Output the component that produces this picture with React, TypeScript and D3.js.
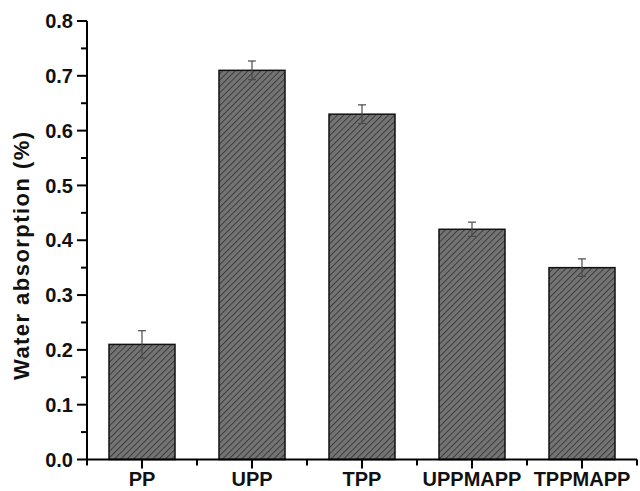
import React from 'react';
import * as d3 from 'd3';

const categories = ['PP', 'UPP', 'TPP', 'UPPMAPP', 'TPPMAPP'];
const values = [0.21, 0.71, 0.63, 0.42, 0.35];
const errors = [0.025, 0.017, 0.017, 0.013, 0.016];
const yTicks = [0, 0.1, 0.2, 0.3, 0.4, 0.5, 0.6, 0.7, 0.8];
const yMinorTicks = [0.05, 0.15, 0.25, 0.35, 0.45, 0.55, 0.65, 0.75];

export default function App() {
  const width = 640;
  const height = 491;
  const left = 87;
  const right = 637;
  const top = 21;
  const bottom = 459.5;

  const x = d3.scaleBand().domain(categories).range([left, right]).paddingInner(0.4).paddingOuter(0.2);
  const y = d3.scaleLinear().domain([0, 0.8]).range([bottom, top]);
  const step = x.step();
  const font = '"Liberation Sans", Arial, sans-serif';

  return (
    <svg width={width} height={height} style={{ position: 'absolute', left: 0, top: 0 }}>
      <defs>
        <pattern id="hatch" patternUnits="userSpaceOnUse" width="4.5" height="4.5" patternTransform="rotate(45)">
          <rect width="4.5" height="4.5" fill="#747474" />
          <line x1="0" y1="0" x2="0" y2="4.5" stroke="#3c3c3c" strokeWidth="2" />
        </pattern>
      </defs>
      <rect width={width} height={height} fill="#fff" />

      {categories.map((c, i) => {
        const bx = x(c) as number;
        const cx = bx + x.bandwidth() / 2;
        return (
          <g key={c}>
            <rect x={bx} y={y(values[i])} width={x.bandwidth()} height={bottom - y(values[i])}
              fill="url(#hatch)" stroke="#111" strokeWidth={1.5} />
            <g stroke="#4a4a4a" strokeWidth={1.2}>
              <line x1={cx} x2={cx} y1={y(values[i] + errors[i])} y2={y(values[i] - errors[i])} />
              <line x1={cx - 4} x2={cx + 4} y1={y(values[i] + errors[i])} y2={y(values[i] + errors[i])} />
              <line x1={cx - 4} x2={cx + 4} y1={y(values[i] - errors[i])} y2={y(values[i] - errors[i])} />
            </g>
          </g>
        );
      })}

      {/* y axis */}
      <line x1={left} x2={left} y1={top} y2={bottom + 1} stroke="#000" strokeWidth={2} />
      {yTicks.map(t => (
        <g key={t}>
          <line x1={left - 10} x2={left} y1={y(t)} y2={y(t)} stroke="#000" strokeWidth={2} />
          <text x={left - 14} y={y(t)} dy="0.36em" textAnchor="end" fontFamily={font}
            fontWeight="bold" fontSize={20} fill="#111">{d3.format('.1f')(t)}</text>
        </g>
      ))}
      {yMinorTicks.map(t => (
        <line key={t} x1={left - 6} x2={left} y1={y(t)} y2={y(t)} stroke="#000" strokeWidth={2} />
      ))}

      {/* x axis */}
      <line x1={left - 1} x2={right} y1={bottom} y2={bottom} stroke="#000" strokeWidth={2} />
      {categories.map(c => {
        const cx = (x(c) as number) + x.bandwidth() / 2;
        return (
          <g key={c}>
            <line x1={cx} x2={cx} y1={bottom} y2={bottom + 9} stroke="#000" strokeWidth={2} />
            <text x={cx} y={486} textAnchor="middle" fontFamily={font} fontWeight="bold"
              fontSize={20} fill="#111">{c}</text>
          </g>
        );
      })}
      {d3.range(categories.length + 1).map(i => (
        <line key={i} x1={left + i * step} x2={left + i * step} y1={bottom} y2={bottom + 6}
          stroke="#000" strokeWidth={2} />
      ))}

      <text transform={`translate(29,256) rotate(-90)`} textAnchor="middle" fontFamily={font}
        fontWeight="bold" fontSize={22} fill="#111" textLength={248} lengthAdjust="spacing">
        Water absorption (%)
      </text>
    </svg>
  );
}
